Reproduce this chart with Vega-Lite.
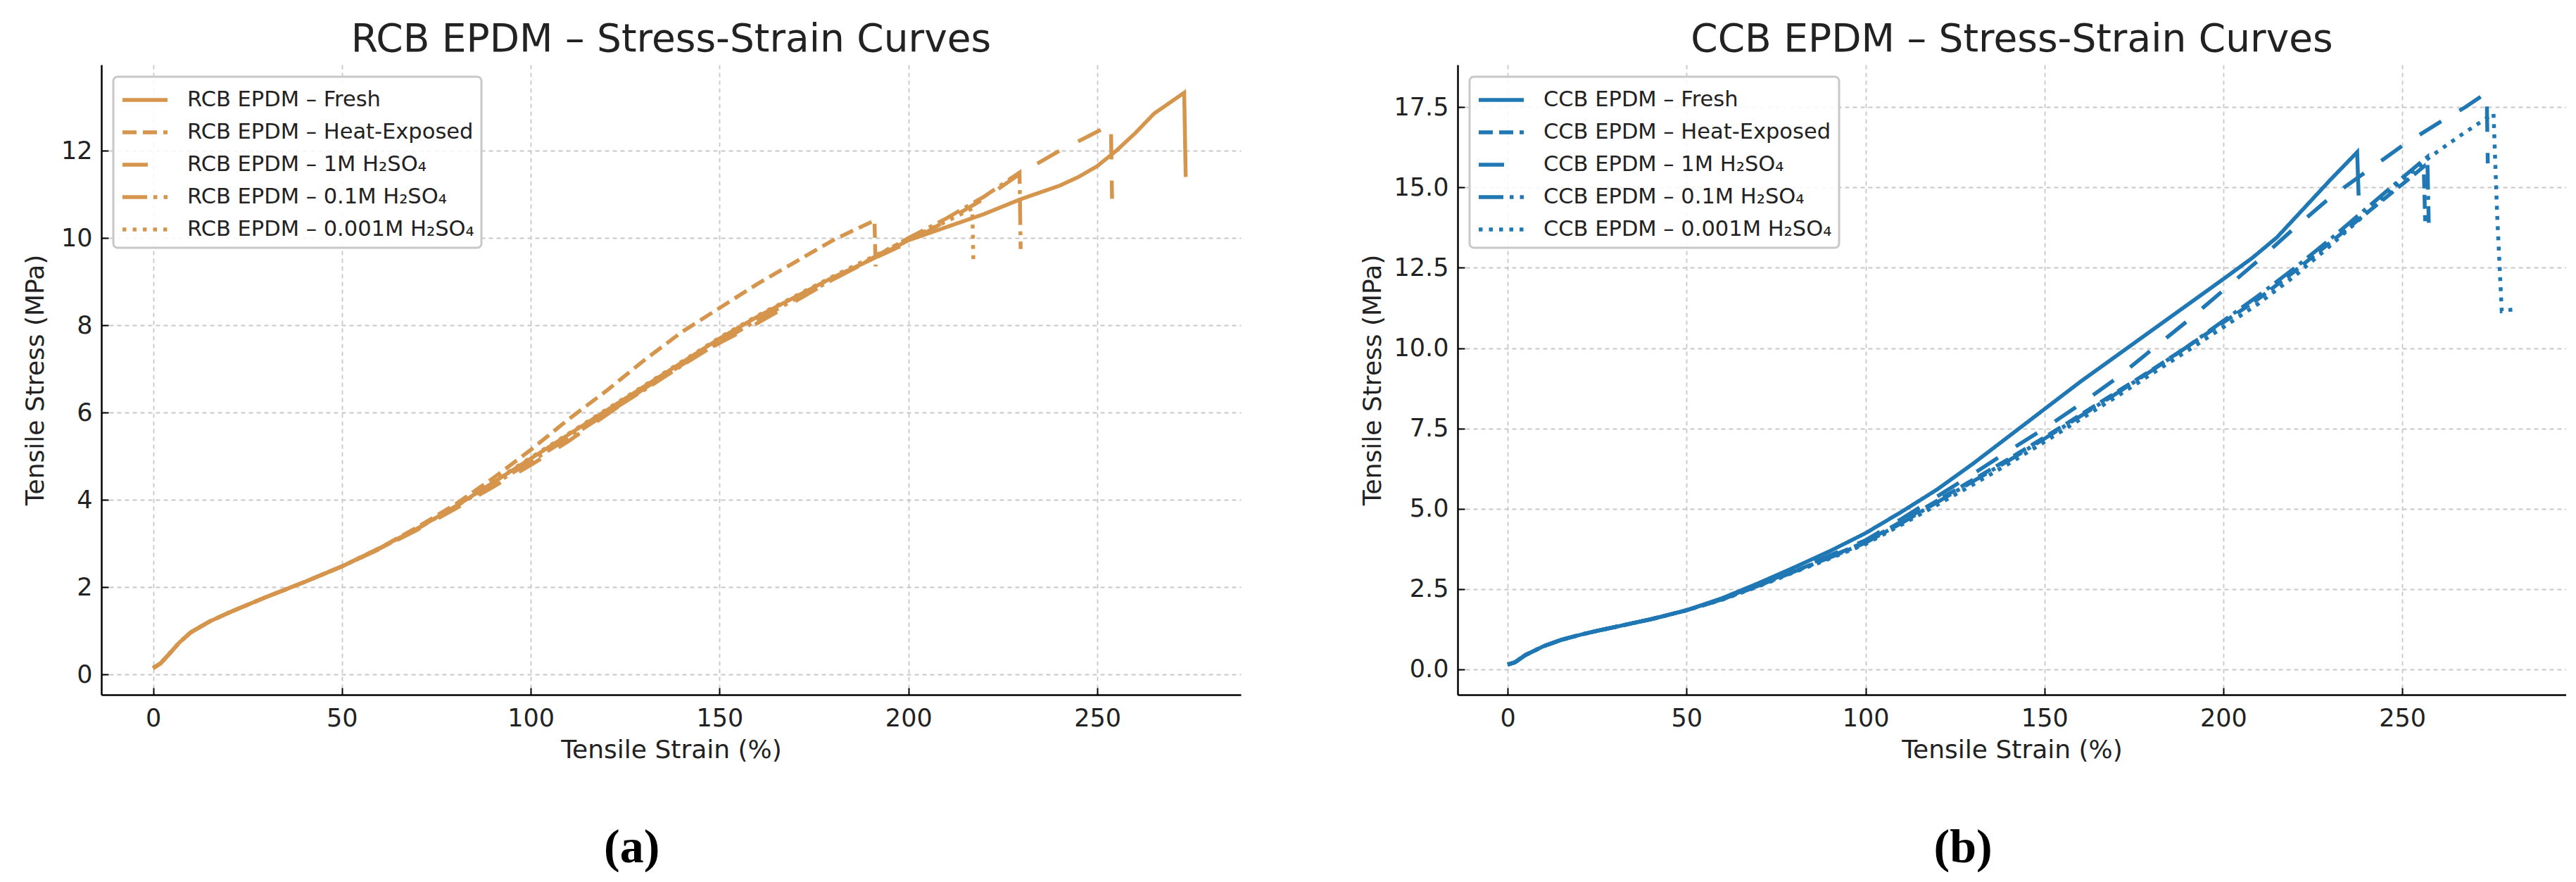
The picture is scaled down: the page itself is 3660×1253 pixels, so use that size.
{
  "$schema": "https://vega.github.io/schema/vega-lite/v6.json",
  "background": "white",
  "padding": {"left": 32, "top": 29, "right": 0, "bottom": 0},
  "datasets": {
    "rcb": [
      {"s": "RCB EPDM – Fresh", "x": 0, "y": 0.15}, {"s": "RCB EPDM – Fresh", "x": 2, "y": 0.26}, {"s": "RCB EPDM – Fresh", "x": 4, "y": 0.45}, {"s": "RCB EPDM – Fresh", "x": 7, "y": 0.74}, {"s": "RCB EPDM – Fresh", "x": 10, "y": 0.97}, {"s": "RCB EPDM – Fresh", "x": 15, "y": 1.22}, {"s": "RCB EPDM – Fresh", "x": 20, "y": 1.42}, {"s": "RCB EPDM – Fresh", "x": 25, "y": 1.6}, {"s": "RCB EPDM – Fresh", "x": 30, "y": 1.78}, {"s": "RCB EPDM – Fresh", "x": 40, "y": 2.12}, {"s": "RCB EPDM – Fresh", "x": 50, "y": 2.48}, {"s": "RCB EPDM – Fresh", "x": 60, "y": 2.9}, {"s": "RCB EPDM – Fresh", "x": 70, "y": 3.35}, {"s": "RCB EPDM – Fresh", "x": 80, "y": 3.85}, {"s": "RCB EPDM – Fresh", "x": 90, "y": 4.4}, {"s": "RCB EPDM – Fresh", "x": 100, "y": 4.95}, {"s": "RCB EPDM – Fresh", "x": 110, "y": 5.5}, {"s": "RCB EPDM – Fresh", "x": 120, "y": 6.05}, {"s": "RCB EPDM – Fresh", "x": 130, "y": 6.6}, {"s": "RCB EPDM – Fresh", "x": 140, "y": 7.15}, {"s": "RCB EPDM – Fresh", "x": 150, "y": 7.7}, {"s": "RCB EPDM – Fresh", "x": 160, "y": 8.2}, {"s": "RCB EPDM – Fresh", "x": 170, "y": 8.65}, {"s": "RCB EPDM – Fresh", "x": 180, "y": 9.1}, {"s": "RCB EPDM – Fresh", "x": 190, "y": 9.5}, {"s": "RCB EPDM – Fresh", "x": 200, "y": 9.95}, {"s": "RCB EPDM – Fresh", "x": 210, "y": 10.25}, {"s": "RCB EPDM – Fresh", "x": 220, "y": 10.55}, {"s": "RCB EPDM – Fresh", "x": 230, "y": 10.9}, {"s": "RCB EPDM – Fresh", "x": 240, "y": 11.2}, {"s": "RCB EPDM – Fresh", "x": 245, "y": 11.4}, {"s": "RCB EPDM – Fresh", "x": 250, "y": 11.65}, {"s": "RCB EPDM – Fresh", "x": 255, "y": 12.0}, {"s": "RCB EPDM – Fresh", "x": 260, "y": 12.4}, {"s": "RCB EPDM – Fresh", "x": 265, "y": 12.85}, {"s": "RCB EPDM – Fresh", "x": 270, "y": 13.15}, {"s": "RCB EPDM – Fresh", "x": 273, "y": 13.33}, {"s": "RCB EPDM – Fresh", "x": 273.4, "y": 11.4},
      {"s": "RCB EPDM – Heat-Exposed", "x": 0, "y": 0.15}, {"s": "RCB EPDM – Heat-Exposed", "x": 2, "y": 0.26}, {"s": "RCB EPDM – Heat-Exposed", "x": 4, "y": 0.45}, {"s": "RCB EPDM – Heat-Exposed", "x": 7, "y": 0.74}, {"s": "RCB EPDM – Heat-Exposed", "x": 10, "y": 0.97}, {"s": "RCB EPDM – Heat-Exposed", "x": 15, "y": 1.22}, {"s": "RCB EPDM – Heat-Exposed", "x": 20, "y": 1.42}, {"s": "RCB EPDM – Heat-Exposed", "x": 25, "y": 1.6}, {"s": "RCB EPDM – Heat-Exposed", "x": 30, "y": 1.78}, {"s": "RCB EPDM – Heat-Exposed", "x": 40, "y": 2.12}, {"s": "RCB EPDM – Heat-Exposed", "x": 50, "y": 2.48}, {"s": "RCB EPDM – Heat-Exposed", "x": 60, "y": 2.9}, {"s": "RCB EPDM – Heat-Exposed", "x": 70, "y": 3.38}, {"s": "RCB EPDM – Heat-Exposed", "x": 80, "y": 3.9}, {"s": "RCB EPDM – Heat-Exposed", "x": 90, "y": 4.5}, {"s": "RCB EPDM – Heat-Exposed", "x": 100, "y": 5.15}, {"s": "RCB EPDM – Heat-Exposed", "x": 110, "y": 5.85}, {"s": "RCB EPDM – Heat-Exposed", "x": 120, "y": 6.5}, {"s": "RCB EPDM – Heat-Exposed", "x": 130, "y": 7.2}, {"s": "RCB EPDM – Heat-Exposed", "x": 140, "y": 7.85}, {"s": "RCB EPDM – Heat-Exposed", "x": 150, "y": 8.4}, {"s": "RCB EPDM – Heat-Exposed", "x": 160, "y": 8.95}, {"s": "RCB EPDM – Heat-Exposed", "x": 170, "y": 9.45}, {"s": "RCB EPDM – Heat-Exposed", "x": 180, "y": 9.95}, {"s": "RCB EPDM – Heat-Exposed", "x": 186, "y": 10.2}, {"s": "RCB EPDM – Heat-Exposed", "x": 191, "y": 10.4}, {"s": "RCB EPDM – Heat-Exposed", "x": 191.3, "y": 9.35},
      {"s": "RCB EPDM – 1M H₂SO₄", "x": 0, "y": 0.15}, {"s": "RCB EPDM – 1M H₂SO₄", "x": 2, "y": 0.26}, {"s": "RCB EPDM – 1M H₂SO₄", "x": 4, "y": 0.45}, {"s": "RCB EPDM – 1M H₂SO₄", "x": 7, "y": 0.74}, {"s": "RCB EPDM – 1M H₂SO₄", "x": 10, "y": 0.97}, {"s": "RCB EPDM – 1M H₂SO₄", "x": 15, "y": 1.22}, {"s": "RCB EPDM – 1M H₂SO₄", "x": 20, "y": 1.42}, {"s": "RCB EPDM – 1M H₂SO₄", "x": 25, "y": 1.6}, {"s": "RCB EPDM – 1M H₂SO₄", "x": 30, "y": 1.78}, {"s": "RCB EPDM – 1M H₂SO₄", "x": 40, "y": 2.12}, {"s": "RCB EPDM – 1M H₂SO₄", "x": 50, "y": 2.48}, {"s": "RCB EPDM – 1M H₂SO₄", "x": 60, "y": 2.88}, {"s": "RCB EPDM – 1M H₂SO₄", "x": 70, "y": 3.32}, {"s": "RCB EPDM – 1M H₂SO₄", "x": 80, "y": 3.8}, {"s": "RCB EPDM – 1M H₂SO₄", "x": 90, "y": 4.3}, {"s": "RCB EPDM – 1M H₂SO₄", "x": 100, "y": 4.8}, {"s": "RCB EPDM – 1M H₂SO₄", "x": 110, "y": 5.35}, {"s": "RCB EPDM – 1M H₂SO₄", "x": 120, "y": 5.95}, {"s": "RCB EPDM – 1M H₂SO₄", "x": 130, "y": 6.55}, {"s": "RCB EPDM – 1M H₂SO₄", "x": 140, "y": 7.1}, {"s": "RCB EPDM – 1M H₂SO₄", "x": 150, "y": 7.6}, {"s": "RCB EPDM – 1M H₂SO₄", "x": 160, "y": 8.05}, {"s": "RCB EPDM – 1M H₂SO₄", "x": 170, "y": 8.55}, {"s": "RCB EPDM – 1M H₂SO₄", "x": 180, "y": 9.05}, {"s": "RCB EPDM – 1M H₂SO₄", "x": 190, "y": 9.5}, {"s": "RCB EPDM – 1M H₂SO₄", "x": 200, "y": 9.9}, {"s": "RCB EPDM – 1M H₂SO₄", "x": 210, "y": 10.4}, {"s": "RCB EPDM – 1M H₂SO₄", "x": 220, "y": 10.9}, {"s": "RCB EPDM – 1M H₂SO₄", "x": 230, "y": 11.5}, {"s": "RCB EPDM – 1M H₂SO₄", "x": 240, "y": 12.0}, {"s": "RCB EPDM – 1M H₂SO₄", "x": 248, "y": 12.35}, {"s": "RCB EPDM – 1M H₂SO₄", "x": 253.6, "y": 12.6}, {"s": "RCB EPDM – 1M H₂SO₄", "x": 253.9, "y": 10.9},
      {"s": "RCB EPDM – 0.1M H₂SO₄", "x": 0, "y": 0.15}, {"s": "RCB EPDM – 0.1M H₂SO₄", "x": 2, "y": 0.26}, {"s": "RCB EPDM – 0.1M H₂SO₄", "x": 4, "y": 0.45}, {"s": "RCB EPDM – 0.1M H₂SO₄", "x": 7, "y": 0.74}, {"s": "RCB EPDM – 0.1M H₂SO₄", "x": 10, "y": 0.97}, {"s": "RCB EPDM – 0.1M H₂SO₄", "x": 15, "y": 1.22}, {"s": "RCB EPDM – 0.1M H₂SO₄", "x": 20, "y": 1.42}, {"s": "RCB EPDM – 0.1M H₂SO₄", "x": 25, "y": 1.6}, {"s": "RCB EPDM – 0.1M H₂SO₄", "x": 30, "y": 1.78}, {"s": "RCB EPDM – 0.1M H₂SO₄", "x": 40, "y": 2.12}, {"s": "RCB EPDM – 0.1M H₂SO₄", "x": 50, "y": 2.48}, {"s": "RCB EPDM – 0.1M H₂SO₄", "x": 60, "y": 2.89}, {"s": "RCB EPDM – 0.1M H₂SO₄", "x": 70, "y": 3.34}, {"s": "RCB EPDM – 0.1M H₂SO₄", "x": 80, "y": 3.85}, {"s": "RCB EPDM – 0.1M H₂SO₄", "x": 90, "y": 4.35}, {"s": "RCB EPDM – 0.1M H₂SO₄", "x": 100, "y": 4.88}, {"s": "RCB EPDM – 0.1M H₂SO₄", "x": 110, "y": 5.42}, {"s": "RCB EPDM – 0.1M H₂SO₄", "x": 120, "y": 5.98}, {"s": "RCB EPDM – 0.1M H₂SO₄", "x": 130, "y": 6.52}, {"s": "RCB EPDM – 0.1M H₂SO₄", "x": 140, "y": 7.08}, {"s": "RCB EPDM – 0.1M H₂SO₄", "x": 150, "y": 7.62}, {"s": "RCB EPDM – 0.1M H₂SO₄", "x": 160, "y": 8.12}, {"s": "RCB EPDM – 0.1M H₂SO₄", "x": 170, "y": 8.6}, {"s": "RCB EPDM – 0.1M H₂SO₄", "x": 180, "y": 9.05}, {"s": "RCB EPDM – 0.1M H₂SO₄", "x": 190, "y": 9.52}, {"s": "RCB EPDM – 0.1M H₂SO₄", "x": 200, "y": 10.0}, {"s": "RCB EPDM – 0.1M H₂SO₄", "x": 210, "y": 10.45}, {"s": "RCB EPDM – 0.1M H₂SO₄", "x": 220, "y": 10.95}, {"s": "RCB EPDM – 0.1M H₂SO₄", "x": 229.4, "y": 11.5}, {"s": "RCB EPDM – 0.1M H₂SO₄", "x": 229.7, "y": 9.75},
      {"s": "RCB EPDM – 0.001M H₂SO₄", "x": 0, "y": 0.15}, {"s": "RCB EPDM – 0.001M H₂SO₄", "x": 2, "y": 0.26}, {"s": "RCB EPDM – 0.001M H₂SO₄", "x": 4, "y": 0.45}, {"s": "RCB EPDM – 0.001M H₂SO₄", "x": 7, "y": 0.74}, {"s": "RCB EPDM – 0.001M H₂SO₄", "x": 10, "y": 0.97}, {"s": "RCB EPDM – 0.001M H₂SO₄", "x": 15, "y": 1.22}, {"s": "RCB EPDM – 0.001M H₂SO₄", "x": 20, "y": 1.42}, {"s": "RCB EPDM – 0.001M H₂SO₄", "x": 25, "y": 1.6}, {"s": "RCB EPDM – 0.001M H₂SO₄", "x": 30, "y": 1.78}, {"s": "RCB EPDM – 0.001M H₂SO₄", "x": 40, "y": 2.12}, {"s": "RCB EPDM – 0.001M H₂SO₄", "x": 50, "y": 2.48}, {"s": "RCB EPDM – 0.001M H₂SO₄", "x": 60, "y": 2.9}, {"s": "RCB EPDM – 0.001M H₂SO₄", "x": 70, "y": 3.36}, {"s": "RCB EPDM – 0.001M H₂SO₄", "x": 80, "y": 3.87}, {"s": "RCB EPDM – 0.001M H₂SO₄", "x": 90, "y": 4.42}, {"s": "RCB EPDM – 0.001M H₂SO₄", "x": 100, "y": 4.97}, {"s": "RCB EPDM – 0.001M H₂SO₄", "x": 110, "y": 5.52}, {"s": "RCB EPDM – 0.001M H₂SO₄", "x": 120, "y": 6.07}, {"s": "RCB EPDM – 0.001M H₂SO₄", "x": 130, "y": 6.62}, {"s": "RCB EPDM – 0.001M H₂SO₄", "x": 140, "y": 7.17}, {"s": "RCB EPDM – 0.001M H₂SO₄", "x": 150, "y": 7.72}, {"s": "RCB EPDM – 0.001M H₂SO₄", "x": 160, "y": 8.22}, {"s": "RCB EPDM – 0.001M H₂SO₄", "x": 170, "y": 8.67}, {"s": "RCB EPDM – 0.001M H₂SO₄", "x": 180, "y": 9.12}, {"s": "RCB EPDM – 0.001M H₂SO₄", "x": 190, "y": 9.55}, {"s": "RCB EPDM – 0.001M H₂SO₄", "x": 200, "y": 9.98}, {"s": "RCB EPDM – 0.001M H₂SO₄", "x": 210, "y": 10.38}, {"s": "RCB EPDM – 0.001M H₂SO₄", "x": 216.9, "y": 10.68}, {"s": "RCB EPDM – 0.001M H₂SO₄", "x": 217.2, "y": 9.4}
    ],
    "ccb": [
      {"s": "CCB EPDM – Fresh", "x": 0, "y": 0.15}, {"s": "CCB EPDM – Fresh", "x": 2, "y": 0.22}, {"s": "CCB EPDM – Fresh", "x": 5, "y": 0.45}, {"s": "CCB EPDM – Fresh", "x": 10, "y": 0.72}, {"s": "CCB EPDM – Fresh", "x": 15, "y": 0.92}, {"s": "CCB EPDM – Fresh", "x": 20, "y": 1.07}, {"s": "CCB EPDM – Fresh", "x": 25, "y": 1.2}, {"s": "CCB EPDM – Fresh", "x": 30, "y": 1.32}, {"s": "CCB EPDM – Fresh", "x": 40, "y": 1.56}, {"s": "CCB EPDM – Fresh", "x": 50, "y": 1.84}, {"s": "CCB EPDM – Fresh", "x": 60, "y": 2.22}, {"s": "CCB EPDM – Fresh", "x": 70, "y": 2.68}, {"s": "CCB EPDM – Fresh", "x": 80, "y": 3.17}, {"s": "CCB EPDM – Fresh", "x": 90, "y": 3.68}, {"s": "CCB EPDM – Fresh", "x": 100, "y": 4.24}, {"s": "CCB EPDM – Fresh", "x": 110, "y": 4.9}, {"s": "CCB EPDM – Fresh", "x": 120, "y": 5.6}, {"s": "CCB EPDM – Fresh", "x": 130, "y": 6.4}, {"s": "CCB EPDM – Fresh", "x": 140, "y": 7.25}, {"s": "CCB EPDM – Fresh", "x": 150, "y": 8.1}, {"s": "CCB EPDM – Fresh", "x": 160, "y": 8.95}, {"s": "CCB EPDM – Fresh", "x": 170, "y": 9.75}, {"s": "CCB EPDM – Fresh", "x": 180, "y": 10.55}, {"s": "CCB EPDM – Fresh", "x": 190, "y": 11.35}, {"s": "CCB EPDM – Fresh", "x": 200, "y": 12.15}, {"s": "CCB EPDM – Fresh", "x": 208, "y": 12.8}, {"s": "CCB EPDM – Fresh", "x": 215, "y": 13.45}, {"s": "CCB EPDM – Fresh", "x": 220, "y": 14.05}, {"s": "CCB EPDM – Fresh", "x": 225, "y": 14.65}, {"s": "CCB EPDM – Fresh", "x": 230, "y": 15.25}, {"s": "CCB EPDM – Fresh", "x": 237.4, "y": 16.1}, {"s": "CCB EPDM – Fresh", "x": 237.8, "y": 14.75},
      {"s": "CCB EPDM – Heat-Exposed", "x": 0, "y": 0.15}, {"s": "CCB EPDM – Heat-Exposed", "x": 2, "y": 0.22}, {"s": "CCB EPDM – Heat-Exposed", "x": 5, "y": 0.45}, {"s": "CCB EPDM – Heat-Exposed", "x": 10, "y": 0.72}, {"s": "CCB EPDM – Heat-Exposed", "x": 15, "y": 0.92}, {"s": "CCB EPDM – Heat-Exposed", "x": 20, "y": 1.07}, {"s": "CCB EPDM – Heat-Exposed", "x": 25, "y": 1.2}, {"s": "CCB EPDM – Heat-Exposed", "x": 30, "y": 1.32}, {"s": "CCB EPDM – Heat-Exposed", "x": 40, "y": 1.56}, {"s": "CCB EPDM – Heat-Exposed", "x": 50, "y": 1.84}, {"s": "CCB EPDM – Heat-Exposed", "x": 60, "y": 2.18}, {"s": "CCB EPDM – Heat-Exposed", "x": 70, "y": 2.6}, {"s": "CCB EPDM – Heat-Exposed", "x": 80, "y": 3.05}, {"s": "CCB EPDM – Heat-Exposed", "x": 90, "y": 3.5}, {"s": "CCB EPDM – Heat-Exposed", "x": 100, "y": 3.97}, {"s": "CCB EPDM – Heat-Exposed", "x": 110, "y": 4.6}, {"s": "CCB EPDM – Heat-Exposed", "x": 120, "y": 5.25}, {"s": "CCB EPDM – Heat-Exposed", "x": 130, "y": 5.9}, {"s": "CCB EPDM – Heat-Exposed", "x": 140, "y": 6.55}, {"s": "CCB EPDM – Heat-Exposed", "x": 150, "y": 7.22}, {"s": "CCB EPDM – Heat-Exposed", "x": 160, "y": 7.92}, {"s": "CCB EPDM – Heat-Exposed", "x": 170, "y": 8.62}, {"s": "CCB EPDM – Heat-Exposed", "x": 180, "y": 9.32}, {"s": "CCB EPDM – Heat-Exposed", "x": 190, "y": 10.05}, {"s": "CCB EPDM – Heat-Exposed", "x": 200, "y": 10.8}, {"s": "CCB EPDM – Heat-Exposed", "x": 210, "y": 11.55}, {"s": "CCB EPDM – Heat-Exposed", "x": 220, "y": 12.4}, {"s": "CCB EPDM – Heat-Exposed", "x": 230, "y": 13.3}, {"s": "CCB EPDM – Heat-Exposed", "x": 240, "y": 14.2}, {"s": "CCB EPDM – Heat-Exposed", "x": 250, "y": 15.1}, {"s": "CCB EPDM – Heat-Exposed", "x": 256, "y": 15.65}, {"s": "CCB EPDM – Heat-Exposed", "x": 256.4, "y": 13.95},
      {"s": "CCB EPDM – 1M H₂SO₄", "x": 0, "y": 0.15}, {"s": "CCB EPDM – 1M H₂SO₄", "x": 2, "y": 0.22}, {"s": "CCB EPDM – 1M H₂SO₄", "x": 5, "y": 0.45}, {"s": "CCB EPDM – 1M H₂SO₄", "x": 10, "y": 0.72}, {"s": "CCB EPDM – 1M H₂SO₄", "x": 15, "y": 0.92}, {"s": "CCB EPDM – 1M H₂SO₄", "x": 20, "y": 1.07}, {"s": "CCB EPDM – 1M H₂SO₄", "x": 25, "y": 1.2}, {"s": "CCB EPDM – 1M H₂SO₄", "x": 30, "y": 1.32}, {"s": "CCB EPDM – 1M H₂SO₄", "x": 40, "y": 1.56}, {"s": "CCB EPDM – 1M H₂SO₄", "x": 50, "y": 1.84}, {"s": "CCB EPDM – 1M H₂SO₄", "x": 60, "y": 2.2}, {"s": "CCB EPDM – 1M H₂SO₄", "x": 70, "y": 2.62}, {"s": "CCB EPDM – 1M H₂SO₄", "x": 80, "y": 3.08}, {"s": "CCB EPDM – 1M H₂SO₄", "x": 90, "y": 3.55}, {"s": "CCB EPDM – 1M H₂SO₄", "x": 100, "y": 4.02}, {"s": "CCB EPDM – 1M H₂SO₄", "x": 110, "y": 4.68}, {"s": "CCB EPDM – 1M H₂SO₄", "x": 120, "y": 5.38}, {"s": "CCB EPDM – 1M H₂SO₄", "x": 130, "y": 6.08}, {"s": "CCB EPDM – 1M H₂SO₄", "x": 140, "y": 6.8}, {"s": "CCB EPDM – 1M H₂SO₄", "x": 150, "y": 7.5}, {"s": "CCB EPDM – 1M H₂SO₄", "x": 160, "y": 8.25}, {"s": "CCB EPDM – 1M H₂SO₄", "x": 170, "y": 9.05}, {"s": "CCB EPDM – 1M H₂SO₄", "x": 180, "y": 9.95}, {"s": "CCB EPDM – 1M H₂SO₄", "x": 190, "y": 10.85}, {"s": "CCB EPDM – 1M H₂SO₄", "x": 200, "y": 11.8}, {"s": "CCB EPDM – 1M H₂SO₄", "x": 210, "y": 12.75}, {"s": "CCB EPDM – 1M H₂SO₄", "x": 220, "y": 13.75}, {"s": "CCB EPDM – 1M H₂SO₄", "x": 230, "y": 14.7}, {"s": "CCB EPDM – 1M H₂SO₄", "x": 240, "y": 15.5}, {"s": "CCB EPDM – 1M H₂SO₄", "x": 250, "y": 16.3}, {"s": "CCB EPDM – 1M H₂SO₄", "x": 260, "y": 17.0}, {"s": "CCB EPDM – 1M H₂SO₄", "x": 267.6, "y": 17.5}, {"s": "CCB EPDM – 1M H₂SO₄", "x": 273.6, "y": 17.95}, {"s": "CCB EPDM – 1M H₂SO₄", "x": 273.9, "y": 15.75},
      {"s": "CCB EPDM – 0.1M H₂SO₄", "x": 0, "y": 0.15}, {"s": "CCB EPDM – 0.1M H₂SO₄", "x": 2, "y": 0.22}, {"s": "CCB EPDM – 0.1M H₂SO₄", "x": 5, "y": 0.45}, {"s": "CCB EPDM – 0.1M H₂SO₄", "x": 10, "y": 0.72}, {"s": "CCB EPDM – 0.1M H₂SO₄", "x": 15, "y": 0.92}, {"s": "CCB EPDM – 0.1M H₂SO₄", "x": 20, "y": 1.07}, {"s": "CCB EPDM – 0.1M H₂SO₄", "x": 25, "y": 1.2}, {"s": "CCB EPDM – 0.1M H₂SO₄", "x": 30, "y": 1.32}, {"s": "CCB EPDM – 0.1M H₂SO₄", "x": 40, "y": 1.56}, {"s": "CCB EPDM – 0.1M H₂SO₄", "x": 50, "y": 1.84}, {"s": "CCB EPDM – 0.1M H₂SO₄", "x": 60, "y": 2.18}, {"s": "CCB EPDM – 0.1M H₂SO₄", "x": 70, "y": 2.6}, {"s": "CCB EPDM – 0.1M H₂SO₄", "x": 80, "y": 3.04}, {"s": "CCB EPDM – 0.1M H₂SO₄", "x": 90, "y": 3.48}, {"s": "CCB EPDM – 0.1M H₂SO₄", "x": 100, "y": 3.94}, {"s": "CCB EPDM – 0.1M H₂SO₄", "x": 110, "y": 4.55}, {"s": "CCB EPDM – 0.1M H₂SO₄", "x": 120, "y": 5.2}, {"s": "CCB EPDM – 0.1M H₂SO₄", "x": 130, "y": 5.85}, {"s": "CCB EPDM – 0.1M H₂SO₄", "x": 140, "y": 6.5}, {"s": "CCB EPDM – 0.1M H₂SO₄", "x": 150, "y": 7.18}, {"s": "CCB EPDM – 0.1M H₂SO₄", "x": 160, "y": 7.88}, {"s": "CCB EPDM – 0.1M H₂SO₄", "x": 170, "y": 8.58}, {"s": "CCB EPDM – 0.1M H₂SO₄", "x": 180, "y": 9.3}, {"s": "CCB EPDM – 0.1M H₂SO₄", "x": 190, "y": 10.05}, {"s": "CCB EPDM – 0.1M H₂SO₄", "x": 200, "y": 10.85}, {"s": "CCB EPDM – 0.1M H₂SO₄", "x": 210, "y": 11.65}, {"s": "CCB EPDM – 0.1M H₂SO₄", "x": 220, "y": 12.5}, {"s": "CCB EPDM – 0.1M H₂SO₄", "x": 230, "y": 13.4}, {"s": "CCB EPDM – 0.1M H₂SO₄", "x": 240, "y": 14.35}, {"s": "CCB EPDM – 0.1M H₂SO₄", "x": 250, "y": 15.3}, {"s": "CCB EPDM – 0.1M H₂SO₄", "x": 257, "y": 15.95}, {"s": "CCB EPDM – 0.1M H₂SO₄", "x": 257.4, "y": 13.9},
      {"s": "CCB EPDM – 0.001M H₂SO₄", "x": 0, "y": 0.15}, {"s": "CCB EPDM – 0.001M H₂SO₄", "x": 2, "y": 0.22}, {"s": "CCB EPDM – 0.001M H₂SO₄", "x": 5, "y": 0.45}, {"s": "CCB EPDM – 0.001M H₂SO₄", "x": 10, "y": 0.72}, {"s": "CCB EPDM – 0.001M H₂SO₄", "x": 15, "y": 0.92}, {"s": "CCB EPDM – 0.001M H₂SO₄", "x": 20, "y": 1.07}, {"s": "CCB EPDM – 0.001M H₂SO₄", "x": 25, "y": 1.2}, {"s": "CCB EPDM – 0.001M H₂SO₄", "x": 30, "y": 1.32}, {"s": "CCB EPDM – 0.001M H₂SO₄", "x": 40, "y": 1.56}, {"s": "CCB EPDM – 0.001M H₂SO₄", "x": 50, "y": 1.84}, {"s": "CCB EPDM – 0.001M H₂SO₄", "x": 60, "y": 2.17}, {"s": "CCB EPDM – 0.001M H₂SO₄", "x": 70, "y": 2.58}, {"s": "CCB EPDM – 0.001M H₂SO₄", "x": 80, "y": 3.02}, {"s": "CCB EPDM – 0.001M H₂SO₄", "x": 90, "y": 3.45}, {"s": "CCB EPDM – 0.001M H₂SO₄", "x": 100, "y": 3.9}, {"s": "CCB EPDM – 0.001M H₂SO₄", "x": 110, "y": 4.5}, {"s": "CCB EPDM – 0.001M H₂SO₄", "x": 120, "y": 5.12}, {"s": "CCB EPDM – 0.001M H₂SO₄", "x": 130, "y": 5.75}, {"s": "CCB EPDM – 0.001M H₂SO₄", "x": 140, "y": 6.4}, {"s": "CCB EPDM – 0.001M H₂SO₄", "x": 150, "y": 7.08}, {"s": "CCB EPDM – 0.001M H₂SO₄", "x": 160, "y": 7.78}, {"s": "CCB EPDM – 0.001M H₂SO₄", "x": 170, "y": 8.48}, {"s": "CCB EPDM – 0.001M H₂SO₄", "x": 180, "y": 9.2}, {"s": "CCB EPDM – 0.001M H₂SO₄", "x": 190, "y": 9.92}, {"s": "CCB EPDM – 0.001M H₂SO₄", "x": 200, "y": 10.65}, {"s": "CCB EPDM – 0.001M H₂SO₄", "x": 210, "y": 11.4}, {"s": "CCB EPDM – 0.001M H₂SO₄", "x": 220, "y": 12.25}, {"s": "CCB EPDM – 0.001M H₂SO₄", "x": 230, "y": 13.2}, {"s": "CCB EPDM – 0.001M H₂SO₄", "x": 240, "y": 14.2}, {"s": "CCB EPDM – 0.001M H₂SO₄", "x": 250, "y": 15.25}, {"s": "CCB EPDM – 0.001M H₂SO₄", "x": 258, "y": 15.97}, {"s": "CCB EPDM – 0.001M H₂SO₄", "x": 266, "y": 16.6}, {"s": "CCB EPDM – 0.001M H₂SO₄", "x": 275.5, "y": 17.3}, {"s": "CCB EPDM – 0.001M H₂SO₄", "x": 276.5, "y": 14.2}, {"s": "CCB EPDM – 0.001M H₂SO₄", "x": 277.8, "y": 11.15}, {"s": "CCB EPDM – 0.001M H₂SO₄", "x": 280.8, "y": 11.2}
    ]
  },
  "spacing": 169,
  "resolve": {
    "scale": {"color": "independent", "strokeDash": "independent"},
    "legend": {"color": "independent", "strokeDash": "independent"}
  },
  "hconcat": [
    {
      "title": {"text": "(a)", "orient": "bottom", "anchor": "middle", "frame": "bounds", "font": "Liberation Serif", "fontSize": 68, "fontWeight": "bold", "color": "#000000", "offset": 88},
      "vconcat": [
        {
          "width": 1619,
          "height": 895,
          "title": {"text": "RCB EPDM – Stress-Strain Curves", "anchor": "middle", "frame": "group", "offset": 7},
          "data": {"name": "rcb"},
          "mark": {"type": "line", "strokeWidth": 5.5},
          "encoding": {
            "x": {"field": "x", "type": "quantitative", "scale": {"domain": [-13.7, 288], "nice": false, "zero": false}, "axis": {"values": [0, 50, 100, 150, 200, 250], "title": "Tensile Strain (%)"}},
            "y": {"field": "y", "type": "quantitative", "scale": {"domain": [-0.46, 13.97], "nice": false, "zero": false}, "axis": {"values": [0, 2, 4, 6, 8, 10, 12], "format": "d", "title": "Tensile Stress (MPa)", "titlePadding": 17}},
            "color": {"field": "s", "type": "nominal", "scale": {"domain": ["RCB EPDM – Fresh", "RCB EPDM – Heat-Exposed", "RCB EPDM – 1M H₂SO₄", "RCB EPDM – 0.1M H₂SO₄", "RCB EPDM – 0.001M H₂SO₄"], "range": ["#D6954C", "#D6954C", "#D6954C", "#D6954C", "#D6954C"]}, "legend": {"title": null}},
            "strokeDash": {"field": "s", "type": "nominal", "scale": {"domain": ["RCB EPDM – Fresh", "RCB EPDM – Heat-Exposed", "RCB EPDM – 1M H₂SO₄", "RCB EPDM – 0.1M H₂SO₄", "RCB EPDM – 0.001M H₂SO₄"], "range": [[1, 0], [20, 9], [36, 30], [35, 9, 5.5, 9], [5.5, 9]]}, "legend": {"title": null}}
          }
        }
      ]
    },
    {
      "title": {"text": "(b)", "orient": "bottom", "anchor": "middle", "frame": "bounds", "font": "Liberation Serif", "fontSize": 68, "fontWeight": "bold", "color": "#000000", "offset": 88},
      "vconcat": [
        {
          "width": 1575,
          "height": 895,
          "title": {"text": "CCB EPDM – Stress-Strain Curves", "anchor": "middle", "frame": "group", "offset": 7},
          "data": {"name": "ccb"},
          "mark": {"type": "line", "strokeWidth": 5.5},
          "encoding": {
            "x": {"field": "x", "type": "quantitative", "scale": {"domain": [-14, 295.8], "nice": false, "zero": false}, "axis": {"values": [0, 50, 100, 150, 200, 250], "title": "Tensile Strain (%)"}},
            "y": {"field": "y", "type": "quantitative", "scale": {"domain": [-0.79, 18.82], "nice": false, "zero": false}, "axis": {"values": [0, 2.5, 5, 7.5, 10, 12.5, 15, 17.5], "format": ".1f", "title": "Tensile Stress (MPa)", "titlePadding": 11}},
            "color": {"field": "s", "type": "nominal", "scale": {"domain": ["CCB EPDM – Fresh", "CCB EPDM – Heat-Exposed", "CCB EPDM – 1M H₂SO₄", "CCB EPDM – 0.1M H₂SO₄", "CCB EPDM – 0.001M H₂SO₄"], "range": ["#1F77B4", "#1F77B4", "#1F77B4", "#1F77B4", "#1F77B4"]}, "legend": {"title": null}},
            "strokeDash": {"field": "s", "type": "nominal", "scale": {"domain": ["CCB EPDM – Fresh", "CCB EPDM – Heat-Exposed", "CCB EPDM – 1M H₂SO₄", "CCB EPDM – 0.1M H₂SO₄", "CCB EPDM – 0.001M H₂SO₄"], "range": [[1, 0], [20, 9], [36, 30], [35, 9, 5.5, 9], [5.5, 9]]}, "legend": {"title": null}}
          }
        }
      ]
    }
  ],
  "config": {
    "view": {"stroke": null},
    "font": "DejaVu Sans",
    "axis": {
      "domainColor": "#000000", "domainWidth": 2.5,
      "tickColor": "#000000", "tickWidth": 2, "tickSize": -10,
      "labelPadding": 23, "labelFont": "DejaVu Sans", "labelFontSize": 35, "labelColor": "#222222",
      "titleFont": "DejaVu Sans", "titleFontSize": 36, "titleFontWeight": "normal", "titleColor": "#222222",
      "grid": true, "gridColor": "#c8c8c8", "gridDash": [6, 5], "gridWidth": 1.8
    },
    "axisX": {"labelPadding": 26, "titlePadding": 10},
    "legend": {
      "orient": "top-left", "offset": 17, "padding": 10,
      "fillColor": "rgba(255,255,255,0.85)", "strokeColor": "#c8c8c8", "strokeWidth": 3, "cornerRadius": 6,
      "labelFont": "DejaVu Sans", "labelFontSize": 30.5, "labelColor": "#222222", "labelLimit": 1000,
      "symbolType": "M-1,0H2.2", "symbolSize": 1600, "symbolStrokeWidth": 5.5, "labelOffset": 49, "rowPadding": 7
    },
    "title": {"font": "DejaVu Sans", "fontSize": 55, "fontWeight": "normal", "color": "#222222"}
  }
}
